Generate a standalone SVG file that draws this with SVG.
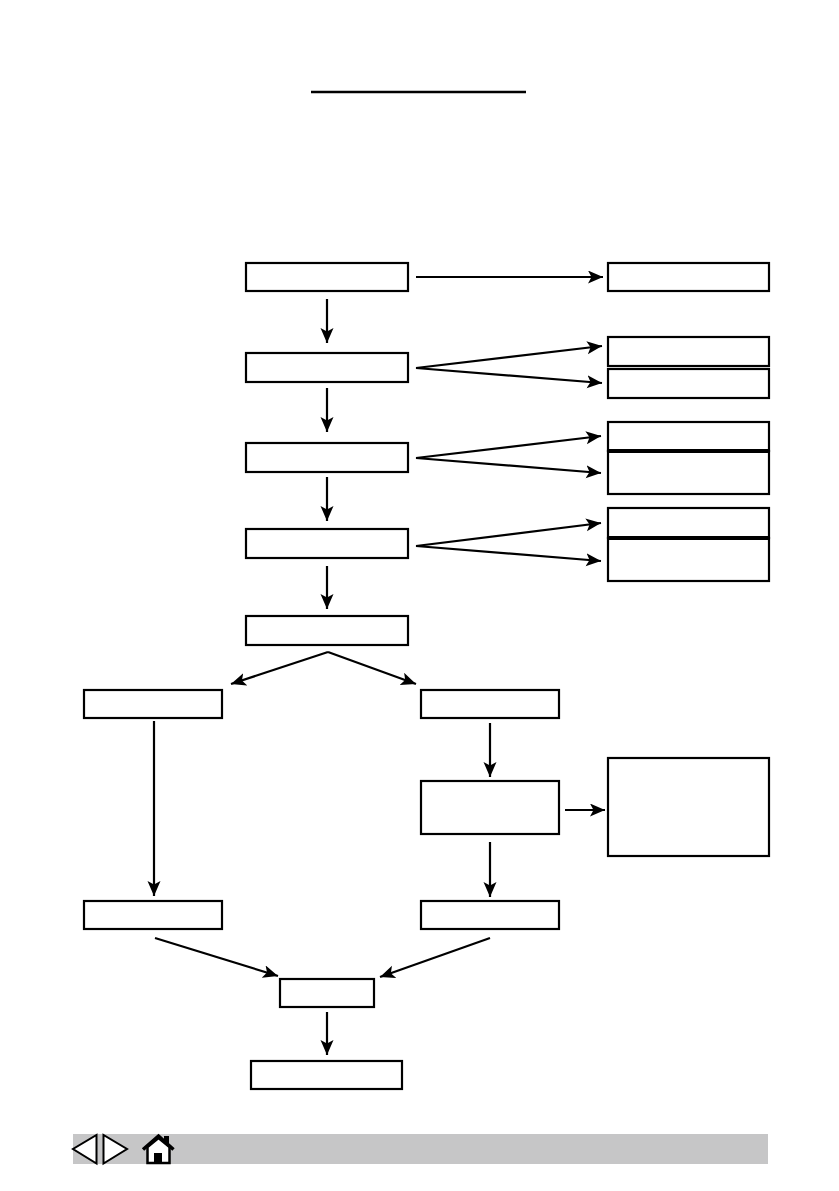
<svg xmlns="http://www.w3.org/2000/svg" width="839" height="1191" viewBox="0 0 839 1191">
<style>
.n{fill:#fff;stroke:#000;stroke-width:2.200}
.c{fill:none;stroke:#000;stroke-width:2.200;marker-end:url(#a)}
</style>
<defs>
<marker id="a" markerUnits="userSpaceOnUse" markerWidth="16" markerHeight="14" refX="15" refY="6.500" orient="auto">
<path d="M0 0L15 6.500L0 13L3.500 6.500Z" fill="#000"/>
</marker>
</defs>
<rect width="839" height="1191" fill="#fff"/>
<path d="M311 92H526" stroke="#000" stroke-width="2.400" fill="none"/>
<g id="connectors">
<path class="c" d="M416 277H603"/>
<path class="c" d="M327 299V343"/>
<path class="c" d="M416 368L602 346"/>
<path class="c" d="M416 368L602 383"/>
<path class="c" d="M327 388V432"/>
<path class="c" d="M416 458L601 436"/>
<path class="c" d="M416 458L601 473"/>
<path class="c" d="M327 477V521"/>
<path class="c" d="M416 546L601 523"/>
<path class="c" d="M416 546L601 561"/>
<path class="c" d="M327 566V609"/>
<path class="c" d="M328 652L231 684"/>
<path class="c" d="M328 652L416 684"/>
<path class="c" d="M154 721V896"/>
<path class="c" d="M490 723V777"/>
<path class="c" d="M565 810H605"/>
<path class="c" d="M490 842V897"/>
<path class="c" d="M155 938L278 976"/>
<path class="c" d="M490 938L380 977"/>
<path class="c" d="M327 1012V1055"/>
</g>
<g id="n1"><rect class="n" x="246" y="263" width="162" height="28"/></g>
<g id="n2"><rect class="n" x="608" y="263" width="161" height="28"/></g>
<g id="n3"><rect class="n" x="246" y="353" width="162" height="29"/></g>
<g id="n4"><rect class="n" x="608" y="337" width="161" height="29"/></g>
<g id="n5"><rect class="n" x="608" y="369" width="161" height="29"/></g>
<g id="n6"><rect class="n" x="246" y="443" width="162" height="29"/></g>
<g id="n7"><rect class="n" x="608" y="422" width="161" height="29"/></g>
<g id="n8"><rect class="n" x="608" y="451" width="161" height="43"/><path d="M608 451H769" stroke="#000" stroke-width="4"/></g>
<g id="n9"><rect class="n" x="246" y="529" width="162" height="29"/></g>
<g id="n10"><rect class="n" x="608" y="508" width="161" height="30"/></g>
<g id="n11"><rect class="n" x="608" y="538" width="161" height="43"/><path d="M608 538H769" stroke="#000" stroke-width="4"/></g>
<g id="n12"><rect class="n" x="246" y="616" width="162" height="29"/></g>
<g id="n13"><rect class="n" x="84" y="690" width="138" height="28"/></g>
<g id="n14"><rect class="n" x="421" y="690" width="138" height="28"/></g>
<g id="n15"><rect class="n" x="421" y="781" width="138" height="53"/></g>
<g id="n16"><rect class="n" x="608" y="758" width="161" height="98"/></g>
<g id="n17"><rect class="n" x="84" y="901" width="138" height="28"/></g>
<g id="n18"><rect class="n" x="421" y="901" width="138" height="28"/></g>
<g id="n19"><rect class="n" x="280" y="979" width="94" height="28"/></g>
<g id="n20"><rect class="n" x="251" y="1061" width="151" height="28"/></g>
<g id="footer">
<rect x="73" y="1134" width="695" height="30" fill="#c6c6c7"/>
<path d="M96.500 1135V1163.500L73 1149Z" fill="#fff" stroke="#000" stroke-width="2"/>
<path d="M103.500 1135V1163.500L127 1149Z" fill="#fff" stroke="#000" stroke-width="2"/>
<path d="M147.500 1147V1163H169.500V1147L158.500 1138Z" fill="#fff" stroke="#000" stroke-width="2.500"/>
<path d="M143 1149.500L158.500 1136L173.500 1149.500" fill="none" stroke="#000" stroke-width="3.500"/>
<path d="M164 1136H169V1145L164 1141Z" fill="#000"/>
<rect x="154" y="1153" width="8" height="10" fill="#000"/>
</g>
</svg>
